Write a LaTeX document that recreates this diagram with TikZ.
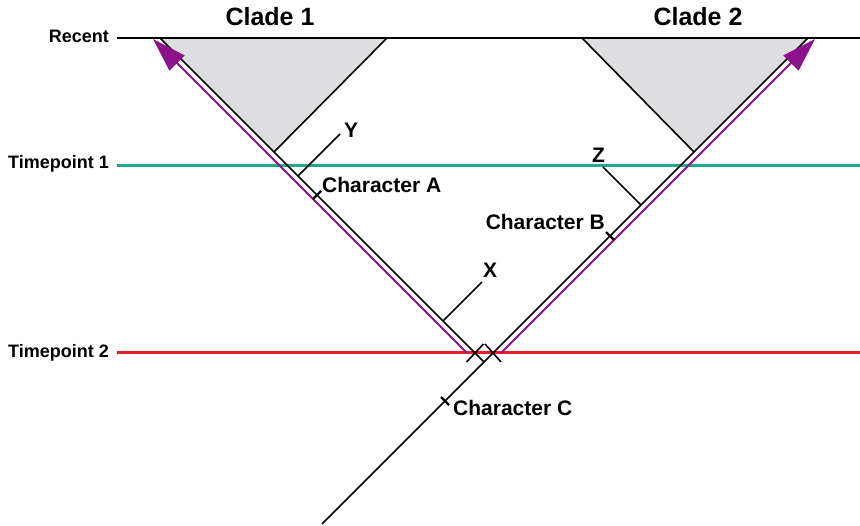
\documentclass[tikz,border=0pt]{standalone}
\usepackage{fontspec}
\setmainfont{Liberation Sans}
\usetikzlibrary{arrows.meta,calc}

\definecolor{tealline}{RGB}{36,168,140}
\definecolor{redline}{RGB}{230,28,40}
\definecolor{lineagepurple}{RGB}{140,18,140}
\definecolor{cladegray}{RGB}{222,222,225}

\begin{document}
\begin{tikzpicture}[x=1pt, y=-1pt,
  branch/.style={black, line width=1.6pt},
  charmark/.style={black, line width=2.4pt},
  lineage/.style={lineagepurple, line width=2pt, -{Triangle[length=34pt,width=21pt]}},
  timeline/.style={line width=3pt},
  lbl/.style={font=\bfseries\fontsize{21}{25}\selectfont, inner sep=0pt},
  timelbl/.style={font=\bfseries\fontsize{18}{22}\selectfont, inner sep=0pt, anchor=base east},
  cladelbl/.style={font=\bfseries\fontsize{25}{30}\selectfont, inner sep=0pt, anchor=base}]

  \useasboundingbox (0,0) rectangle (860,526);

  % Time levels
  \coordinate (R0) at (117,38);   \coordinate (R1) at (860,38);
  \coordinate (T10) at (117,166); \coordinate (T11) at (860,166);
  \coordinate (T20) at (117,353); \coordinate (T21) at (860,353);

  % Tree: trunk runs straight on into the right arm
  \coordinate (root) at (322,524);
  \coordinate (split) at (484,362);
  \coordinate (tip1) at (160,38);
  \coordinate (tip2) at (808,38);

  % Clade triangles
  \coordinate (c1a) at (387,38); \coordinate (c1b) at (274,152);
  \coordinate (c2a) at (582,38); \coordinate (c2b) at (694,152);
  \fill[cladegray] (tip1) -- (c1a) -- (c1b) -- cycle;
  \fill[cladegray] (c2a) -- (tip2) -- (c2b) -- cycle;

  % Horizontal lines
  \draw[line width=2.4pt] (R0) -- (R1);
  \draw[timeline, tealline] (T10) -- (T11);
  \draw[timeline, redline] (T20) -- (T21);

  % Branches
  \draw[branch] (root) -- (tip2);
  \draw[branch] (split) -- (tip1);
  \draw[branch] (c1a) -- (c1b);
  \draw[branch] (c2a) -- (c2b);

  % Side branches X, Y, Z
  \coordinate (xa) at (443,321); \coordinate (xb) at (482,282);
  \coordinate (ya) at (298,176); \coordinate (yb) at (340,134);
  \coordinate (za) at (641,205); \coordinate (zb) at (603,167);
  \draw[branch] (xa) -- (xb);
  \draw[branch] (ya) -- (yb);
  \draw[branch] (za) -- (zb);

  % Lineages followed through time
  \coordinate (p1s) at (467,353); \coordinate (p1e) at (153,39);
  \coordinate (p2s) at (501,353); \coordinate (p2e) at (815,39);
  \draw[lineage] (p1s) -- (p1e);
  \draw[lineage] (p2s) -- (p2e);

  % Character changes
  \coordinate (chA) at (317,195);
  \coordinate (chB) at (610,236);
  \coordinate (chC) at (445,401);
  \draw[charmark] ($(chA)+(-4,4)$) -- ($(chA)+(4,-4)$);
  \draw[charmark] ($(chB)+(-4,-4)$) -- ($(chB)+(4,4)$);
  \draw[charmark] ($(chC)+(-4,-4)$) -- ($(chC)+(4,4)$);

  % Cuts at timepoint 2
  \coordinate (cutL) at (475,353);
  \coordinate (cutR) at (493,353);
  \draw[branch] ($(cutL)+(-8.5,9)$) -- ($(cutL)+(8.5,-9)$);
  \draw[branch] ($(cutR)+(-8,-9)$) -- ($(cutR)+(8,9)$);

  % Labels
  \node[timelbl] (recent) at (109,43) {Recent};
  \node[timelbl] (tp1) at (109,169) {Timepoint 1};
  \node[timelbl] (tp2) at (109,358) {Timepoint 2};
  \node[cladelbl] (clade1) at (270,26) {Clade 1};
  \node[cladelbl] (clade2) at (698,26) {Clade 2};
  \node[lbl, anchor=base west] (labA) at (322,193) {Character A};
  \node[lbl, anchor=base east] (labB) at (605,230) {Character B};
  \node[lbl, anchor=base west] (labC) at (453,416) {Character C};
  \node[lbl, anchor=base west] (labX) at (483,278) {X};
  \node[lbl, anchor=base west] (labY) at (344,138) {Y};
  \node[lbl, anchor=base west] (labZ) at (592,163) {Z};

\end{tikzpicture}
\end{document}
